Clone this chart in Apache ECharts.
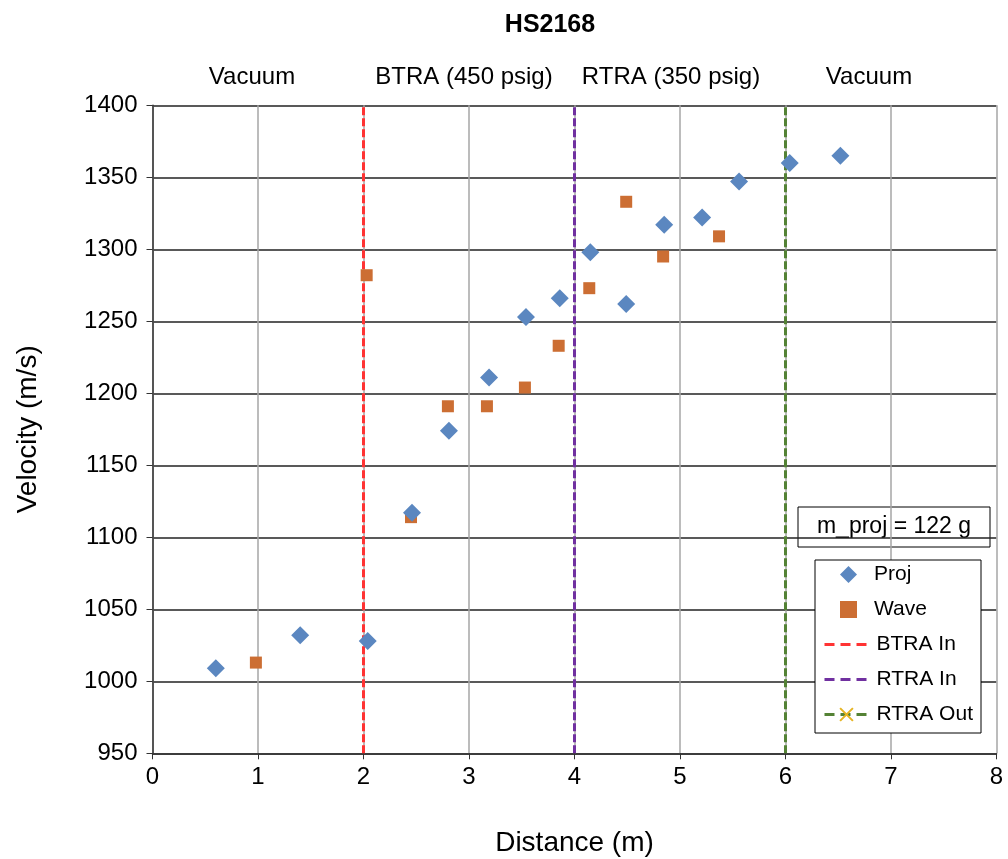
<!DOCTYPE html>
<html><head><meta charset="utf-8">
<script src="https://cdn.jsdelivr.net/npm/echarts@6/dist/echarts.min.js"></script>
<style>html,body{margin:0;padding:0;background:#fff}#c{width:1008px;height:859px}</style>
</head><body><div id="c"></div>
<script>
const projX = [0.60, 1.40, 2.04, 2.46, 2.81, 3.19, 3.54, 3.86, 4.15, 4.49, 4.85, 5.21, 5.56, 6.04, 6.52];
const projY = [1009, 1032, 1028, 1117, 1174, 1211, 1253, 1266, 1298, 1262, 1317, 1322, 1347, 1360, 1365];
const waveX = [0.98, 2.03, 2.45, 2.80, 3.17, 3.53, 3.85, 4.14, 4.49, 4.84, 5.37];
const waveY = [1013, 1282, 1114, 1191, 1191, 1204, 1233, 1273, 1333, 1295, 1309];
const btraInX = 2, rtraInX = 4, rtraOutX = 6;
const regionLabels = ['Vacuum', 'BTRA (450 psig)', 'RTRA (350 psig)', 'Vacuum'];
const regionCenters = [252, 464, 671, 869];
const massText = 'm_proj = 122 g';
const FONT = 'Liberation Sans, Arial, sans-serif';

const chart = echarts.init(document.getElementById('c'));
const vline = (x) => [[x, 950], [x, 1400]].map(v => ({value: v, symbol: 'none'}));

const graphics = regionLabels.map((t, i) => ({
  type: 'text', x: regionCenters[i], y: 65,
  style: {text: t, font: '24px ' + FONT, fill: '#000', textAlign: 'center'}
}));
graphics.push({
  type: 'group', x: 798, y: 507, z: 100, children: [
    {type: 'rect', shape: {x: 0, y: 0, width: 192, height: 40}, style: {fill: '#fff', stroke: '#000', lineWidth: 1}},
    {type: 'text', x: 96, y: 8, style: {text: massText, font: '23px ' + FONT, fill: '#000', textAlign: 'center'}}
  ]
});
graphics.push({type: 'rect', z: 90, shape: {x: 815, y: 560, width: 166, height: 173},
  style: {fill: '#fff', stroke: '#000', lineWidth: 1}});

const legendText = {fontFamily: FONT, fontSize: 21, color: '#000', lineHeight: 21};
const txtStyle = {fontFamily: FONT, fontSize: 24, color: '#000'};

chart.setOption({
  animation: false,
  backgroundColor: '#fff',
  title: {text: 'HS2168', left: 545, top: 8, textAlign: 'center',
    textStyle: {fontFamily: FONT, fontSize: 25, fontWeight: 'bold', color: '#000'}},
  grid: {left: 152.5, right: 11.5, top: 105.3, bottom: 105.7, outerBoundsMode: 'none', containLabel: false},
  xAxis: {type: 'value', min: 0, max: 8, interval: 1,
    name: 'Distance (m)', nameLocation: 'middle', nameGap: 76,
    nameTextStyle: {fontFamily: FONT, fontSize: 28, color: '#000'},
    axisLine: {show: true, lineStyle: {color: '#333', width: 1.5}},
    axisTick: {show: true, length: 6, lineStyle: {color: '#333'}},
    axisLabel: Object.assign({margin: 12}, txtStyle),
    splitLine: {show: true, lineStyle: {color: '#a6a6a6', width: 1.5}}},
  yAxis: {type: 'value', min: 950, max: 1400, interval: 50,
    name: 'Velocity (m/s)', nameLocation: 'middle', nameGap: 110,
    nameTextStyle: {fontFamily: FONT, fontSize: 28, color: '#000'},
    axisLine: {show: true, lineStyle: {color: '#333', width: 1.5}},
    axisTick: {show: true, length: 6, lineStyle: {color: '#333'}},
    axisLabel: Object.assign({margin: 15, formatter: v => String(v)}, txtStyle),
    splitLine: {show: true, lineStyle: {color: '#222', width: 1.5}}},
  legend: [
    {orient: 'vertical', left: 840, top: 564, padding: 0, itemGap: 14, z: 95,
      itemWidth: 17, itemHeight: 17,
      textStyle: Object.assign({padding: [0, 0, 0, 12]}, legendText),
      data: ['Proj', 'Wave']},
    {orient: 'vertical', left: 823, top: 634, padding: 0, itemGap: 14, z: 95,
      itemWidth: 44, itemHeight: 16,
      lineStyle: {width: 3, type: [10, 6]},
      textStyle: Object.assign({padding: [0, 0, 0, 3]}, legendText),
      data: ['BTRA In', 'RTRA In', 'RTRA Out']}
  ],
  graphic: graphics,
  series: [
    {name: 'BTRA In', type: 'line', data: vline(btraInX), symbol: 'circle', symbolSize: 1,
      lineStyle: {color: '#ff3333', width: 3, type: [8, 3]}, itemStyle: {color: 'rgba(0,0,0,0)'}, z: 2},
    {name: 'RTRA In', type: 'line', data: vline(rtraInX), symbol: 'circle', symbolSize: 1,
      lineStyle: {color: '#7030a0', width: 3, type: [8, 3]}, itemStyle: {color: 'rgba(0,0,0,0)'}, z: 2},
    {name: 'RTRA Out', type: 'line', data: vline(rtraOutX),
      symbol: 'path://M0,0L10,10M10,0L0,10', symbolSize: 14,
      lineStyle: {color: '#548235', width: 3, type: [8, 3]},
      itemStyle: {color: 'rgba(0,0,0,0)', borderColor: '#e6b422', borderWidth: 1.5}, z: 2},
    {name: 'Proj', type: 'scatter', symbol: 'diamond', symbolSize: [18, 18],
      data: projX.map((x, i) => [x, projY[i]]), itemStyle: {color: '#5b87c0', opacity: 1}, z: 5},
    {name: 'Wave', type: 'scatter', symbol: 'rect', symbolSize: 12,
      data: waveX.map((x, i) => [x, waveY[i]]), itemStyle: {color: '#cc6e33', opacity: 1}, z: 4}
  ]
});
</script></body></html>
